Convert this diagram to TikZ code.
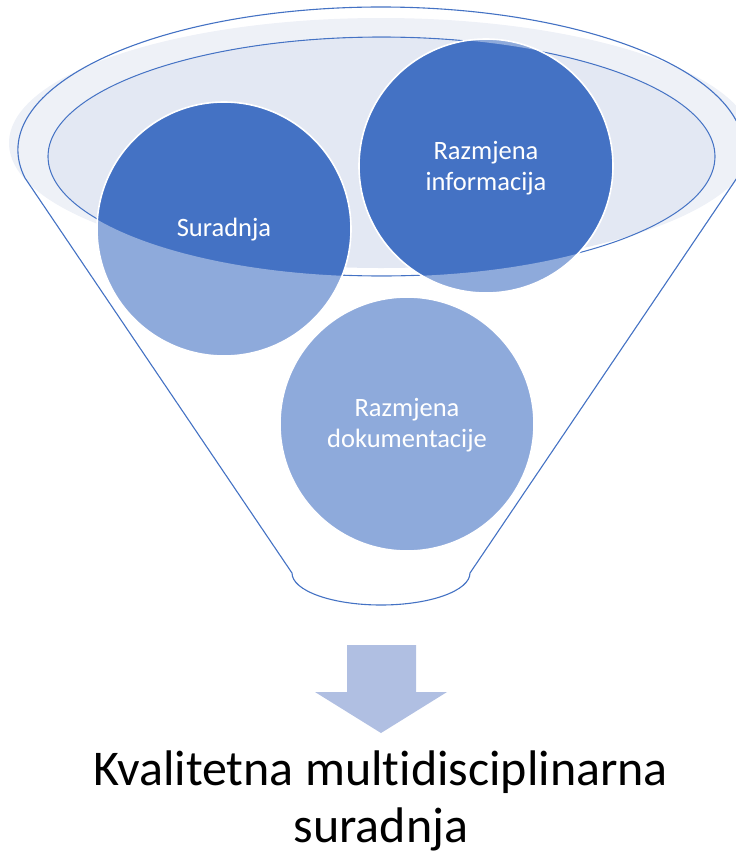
\documentclass[tikz,border=0pt]{standalone}
\usepackage{fontspec}
\setmainfont{Carlito}[RawFeature={-liga}]
\definecolor{acc}{HTML}{4472C4}
\definecolor{rimfill}{HTML}{E3E8F3}
\definecolor{arrowc}{HTML}{B0BFE2}
\begin{document}
\begin{tikzpicture}[x=1pt,y=1pt,
  bubble/.style={circle, fill=acc, draw=white, line width=1.6pt, minimum size=254pt, inner sep=0pt},
  bubbletext/.style={text=white, font=\fontsize{26.5}{30.5}\selectfont, align=center, inner sep=0pt},
  rimline/.style={draw=acc, line width=1.1pt},
  resulttext/.style={font=\fontsize{50}{57}\selectfont, align=center, text=black}]
\useasboundingbox (0,0) rectangle (736,-855);
% rim fill
\fill[rimfill] (381,-143) ellipse[x radius=372, y radius=125];
% inner ellipse outline
\draw[rimline] (381.5,-156.5) ellipse[x radius=333.5, y radius=119.5];
% circles
\node[bubble] (sur) at (224,-229) {};
\node[bubble] (inf) at (486,-166) {};
\node[bubble] (dok) at (407,-424) {};
% translucent white front of the funnel (everything outside the inner ellipse)
\fill[white, opacity=0.4, even odd rule] (-5,5) rectangle (745,-860)
  (381.5,-156.5) ellipse[x radius=334.1, y radius=120.1];
% funnel outline
\draw[rimline, line join=round] (25,-178)
  arc[start angle=191.3, end angle=-11.3, x radius=363, y radius=143]
  -- (470,-573)
  arc[start angle=0, end angle=-180, x radius=89, y radius=32]
  -- cycle;
% labels
\node[bubbletext] (surt) at ([yshift=-1pt]sur.center) {Suradnja};
\node[bubbletext] (inft) at ([yshift=-2pt]inf.center) {Razmjena\\informacija};
\node[bubbletext] (dokt) at ([yshift=-1pt]dok.center) {Razmjena\\dokumentacije};
% arrow
\fill[arrowc] (347,-645) -- (416,-645) -- (416,-692) -- (447,-692) -- (381,-733)
  -- (315,-692) -- (347,-692) -- cycle;
% result text
\node[resulttext] (res) at (381,-801) {Kvalitetna multidisciplinarna\\suradnja};
\end{tikzpicture}
\end{document}
